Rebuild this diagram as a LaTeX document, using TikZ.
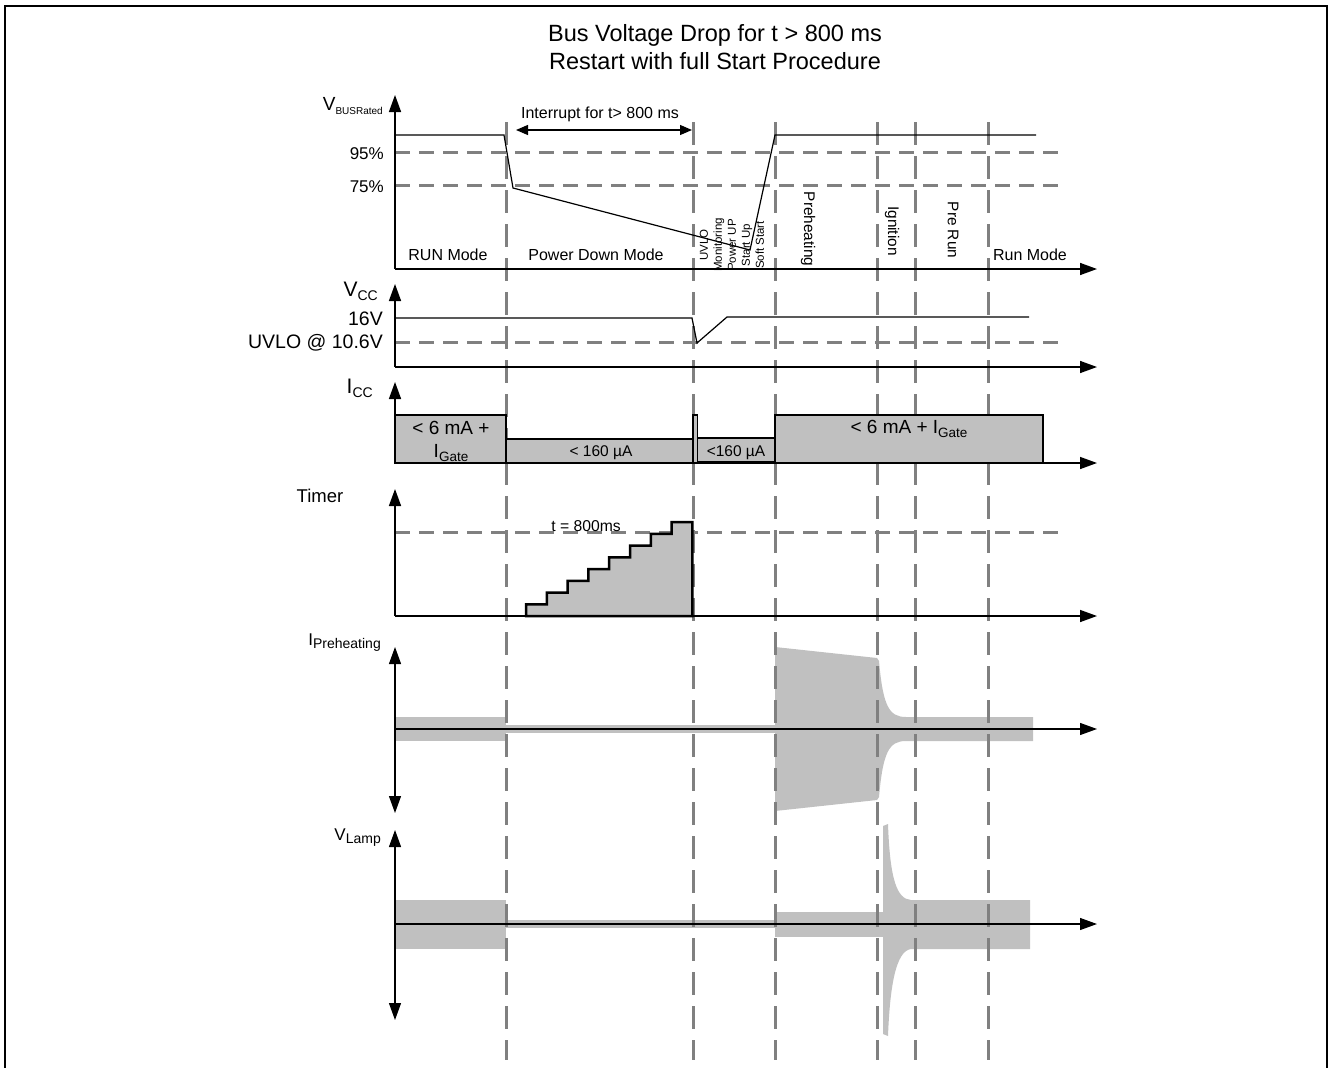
\documentclass[tikz,border=0pt]{standalone}
\usepackage{fontspec}
\setmainfont{Liberation Sans}
\usetikzlibrary{arrows.meta,positioning}
\definecolor{dgray}{HTML}{808080}
\definecolor{lgray}{HTML}{C0C0C0}
\newcommand\setpx[1]{\fontsize{#1}{#1}\selectfont}
\newcommand\lowtxt[2]{\raisebox{-0.22em}{\setpx{#1}#2}}
\tikzstyle{axis} = [line width=1.5pt, ->, >={Triangle[width=12pt,length=17pt]}]
\tikzstyle{sig} = [line width=1.2pt]
\tikzstyle{vdash} = [line width=3pt, draw=dgray, dash pattern=on 23pt off 11pt]
\tikzstyle{hdash} = [line width=3pt, draw=dgray, dash pattern=on 15pt off 9pt]

\begin{document}
\begin{tikzpicture}[x=1pt,y=-1pt]
\tikzset{%
	lbl/.style = {font=\setpx{17}, inner sep=0pt, anchor=base east},
	mode/.style = {font=\setpx{16}, inner sep=0pt, anchor=base},
	vmode/.style = {font=\setpx{15.4}, inner sep=0pt, rotate=-90},
	band/.style = {fill=lgray, draw=none},
	box/.style = {fill=lgray, draw=black, line width=1.3pt}
}
\useasboundingbox (0,0) rectangle (1331,1068);
\draw [line width=1.3pt] (5,1068) -- (5,6) -- (1327,6) -- (1327,1068);

\node(ti1) [font=\setpx{23.5}, inner sep=0pt, anchor=base] at (715,41) {Bus Voltage Drop for t > 800 ms};
\node(ti2) [font=\setpx{23.5}, inner sep=0pt, anchor=base] at (715,69) {Restart with full Start Procedure};

% bands of I preheating and V lamp
\fill [band] (395,717) rectangle (506,741);
\fill [band] (506,725) rectangle (775,733);
\fill [band] (775,647) -- (877,658) -- (879,661) .. controls (883,706) and (889,717) .. (906,717)
	-- (1033,717) -- (1033,741) -- (906,741) .. controls (889,741) and (883,752) .. (879,797)
	-- (877,800) -- (775,811) -- cycle;
\fill [band] (395,900) rectangle (506,949);
\fill [band] (506,920) rectangle (775,928);
\fill [band] (775,912) rectangle (885,937);
\fill [band] (883,826) -- (888,824) .. controls (890,880) and (897,899) .. (911,900)
	-- (1030,900) -- (1030,949) -- (911,949) .. controls (896,951) and (890,985) .. (888,1036)
	-- (883,1034) -- cycle;

\foreach \x in {506,693,775,877,915,988}
	\draw [vdash] (\x,122) -- (\x,1060);
\foreach \y in {152,185,342,532}
	\draw [hdash] (395,\y) -- (1058,\y);

% V bus
\node(vb) [lbl, font=\setpx{19}] at (383,110) {V\lowtxt{10}{BUSRated}};
\node(p95) [lbl] at (384,159) {95\%};
\node(p75) [lbl] at (384,192) {75\%};
\draw [sig] (395,135) -- (504,135) -- (513,188) -- (750,250) -- (775,135) -- (1036,135);
\coordinate (i1) at (516,130);
\coordinate (i2) at (692,130);
\draw [line width=1.2pt, <->, >={Triangle[width=10pt,length=12pt]}] (i1) -- (i2);
\node(int) [mode] at (600,118) {Interrupt for t> 800 ms};
\node(m1) [mode] at (448,260) {RUN Mode};
\node(m2) [mode] at (596,260) {Power Down Mode};
\node(m3) [font=\fontsize{11.5}{14}\selectfont, inner sep=0pt, rotate=90, align=center] at (732,245)
	{UVLO\\Monitoring\\Power UP\\Start Up\\Soft Start};
\node(m4) [vmode] at (808,229) {Preheating};
\node(m5) [vmode] at (892,231) {Ignition};
\node(m6) [vmode] at (953,230) {Pre Run};
\node(m7) [mode] at (1030,260) {Run Mode};
\draw [axis] (395,269) -- (395,95);
\draw [axis] (395,269) -- (1097,269);

% V cc
\node(vc) [lbl, font=\setpx{21}] at (378,296) {V\lowtxt{14}{CC}};
\node(v16) [lbl, font=\setpx{19.5}] at (383,325) {16V};
\node(uv) [lbl, font=\setpx{19.5}] at (383,348) {UVLO @ 10.6V};
\draw [sig] (395,318) -- (692,318) -- (697,343) -- (727,317) -- (1029,317);
\draw [axis] (395,367) -- (395,284);
\draw [axis] (395,367) -- (1097,367);

% I cc
\node(ic) [lbl, font=\setpx{21}] at (373,393) {I\lowtxt{14}{CC}};
\draw [box] (395,415) rectangle (506,463);
\draw [box] (506,439) rectangle (693,463);
\draw [box] (693,415) rectangle (697.5,463);
\draw [box] (697.5,438) rectangle (775,462);
\draw [box] (775,415) rectangle (1043,463);
\node(ic1) [mode, font=\setpx{19}] at (451,434) {< 6 mA +};
\node(ic2) [mode, font=\setpx{19}] at (451,457) {I\lowtxt{13.5}{Gate}};
\node(ic3) [mode, font=\setpx{15.5}] at (601,456) {< 160 µA};
\node(ic4) [mode, font=\setpx{15.5}] at (736,456) {<160 µA};
\node(ic5) [mode, font=\setpx{19}] at (909,433) {< 6 mA + I\lowtxt{13.5}{Gate}};
\draw [axis] (395,463) -- (395,382);
\draw [axis] (395,463) -- (1097,463);

% timer
\node(tm) [mode, font=\setpx{18.5}] at (320,502) {Timer};
\filldraw [fill=lgray, draw=black, line width=2.5pt]
	(526,616) \foreach \k in {1,...,8} { |- ({526+(\k-1)*20.8},{616-\k*11.75}) -- ++(20.8,0) } -- (692.4,616) -- cycle;
\node(t8) [mode, font=\setpx{15.7}] at (586,531) {t = 800ms};
\draw [axis] (395,616) -- (395,489);
\draw [axis] (395,616) -- (1097,616);
\draw [line width=2.5pt] (395,616) -- (1025,616);

% I preheating
\node(ip) [lbl] at (381,645) {I\lowtxt{14}{Preheating}};
\draw [axis, line width=1.2pt, <->] (395,813) -- (395,647);
\draw [axis, line width=1.2pt] (395,729) -- (1097,729);

% V lamp
\node(vl) [lbl] at (381,840) {V\lowtxt{14}{Lamp}};
\draw [axis, line width=1.2pt, <->] (395,1020) -- (395,830);
\draw [axis, line width=1.2pt] (395,924) -- (1097,924);
\end{tikzpicture}
\end{document}
